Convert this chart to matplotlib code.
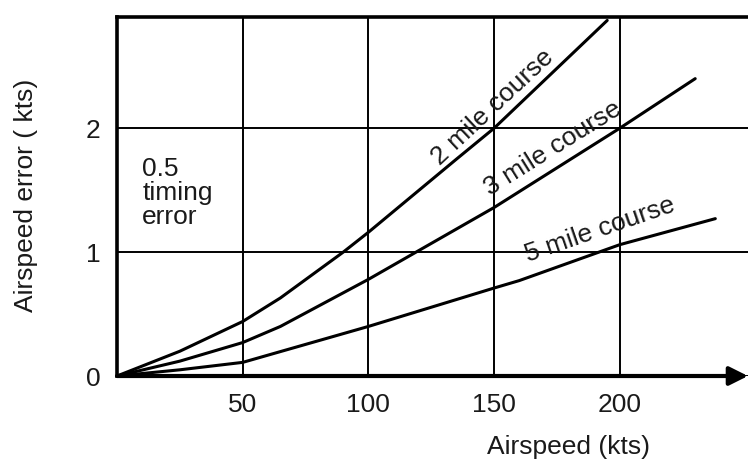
import matplotlib
matplotlib.use("Agg")
import matplotlib.pyplot as plt

# Data
x_2mile = [0, 25, 50, 65, 90, 100, 135, 150, 195]
y_2mile = [0, 0.2, 0.44, 0.63, 1.0, 1.16, 1.75, 2.0, 2.87]

x_3mile = [0, 25, 50, 65, 100, 125, 150, 200, 230]
y_3mile = [0, 0.12, 0.27, 0.4, 0.78, 1.07, 1.36, 2.0, 2.4]

x_5mile = [0, 25, 50, 100, 150, 160, 200, 238]
y_5mile = [0, 0.05, 0.11, 0.40, 0.71, 0.77, 1.06, 1.27]

x_ticks = [50, 100, 150, 200]
y_ticks = [0, 1, 2]

plt.rcParams['font.family'] = ['Liberation Sans', 'DejaVu Sans']
FS = 19
TC = '#1a1a1a'

fig = plt.figure(figsize=(7.48, 4.62), dpi=100)
ax = fig.add_axes([117/748, 86/462, 631/748, 359.3/462])
ax.set_xlim(0, 251)
ax.set_ylim(0, 2.9)

for xs, ys in [(x_2mile, y_2mile), (x_3mile, y_3mile), (x_5mile, y_5mile)]:
    ax.plot(xs, ys, color='black', lw=2.2, solid_capstyle='round', zorder=3)

ax.set_xticks(x_ticks)
ax.set_yticks(y_ticks)
ax.set_xticklabels([str(v) for v in x_ticks])
ax.set_yticklabels([str(v) for v in y_ticks])
ax.tick_params(length=0, labelsize=FS, colors=TC)
ax.tick_params(axis='x', pad=12)
ax.tick_params(axis='y', pad=12)
ax.grid(True, color='black', lw=1.4)

ax.spines['right'].set_visible(False)
ax.spines['top'].set_linewidth(2.6)
ax.spines['left'].set_linewidth(2.6)
ax.spines['bottom'].set_visible(False)
ax.annotate('', xy=(1.0, 0), xytext=(0, 0), xycoords='axes fraction',
            arrowprops=dict(arrowstyle='-|>', lw=3, color='black',
                            mutation_scale=28, shrinkA=0, shrinkB=0),
            annotation_clip=False, zorder=5)

ax.set_xlabel('Airspeed (kts)', fontsize=FS, color=TC)
ax.xaxis.set_label_coords(0.715, -0.198)
ax.xaxis.label.set_verticalalignment('center')
ax.set_ylabel('Airspeed error ( kts)', fontsize=FS, color=TC)
ax.yaxis.set_label_coords(-0.144, 0.504)
ax.yaxis.label.set_verticalalignment('center')

ax.text(10, 1.48, '0.5\ntiming\nerror', fontsize=FS, va='center', ha='left',
        linespacing=1.0, color=TC)
ax.text(149.5, 2.17, '2 mile course', fontsize=FS, rotation=43, ha='center',
        va='center', rotation_mode='anchor', color=TC)
ax.text(173.4, 1.84, '3 mile course', fontsize=FS, rotation=32, ha='center',
        va='center', rotation_mode='anchor', color=TC)
ax.text(192, 1.18, '5 mile course', fontsize=FS, rotation=19, ha='center',
        va='center', rotation_mode='anchor', color=TC)

fig.savefig('out.png', dpi=100, facecolor='white')
